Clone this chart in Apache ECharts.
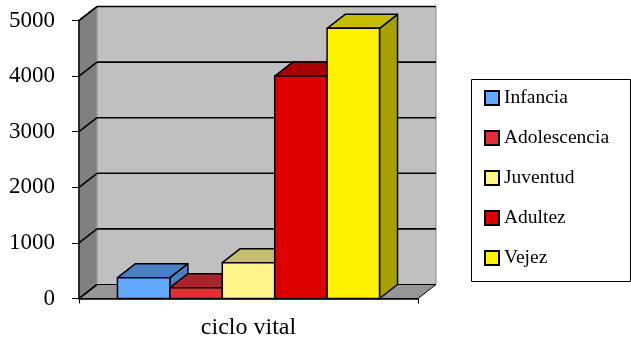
<!DOCTYPE html>
<html>
<head>
<meta charset="utf-8">
<script src="https://cdn.jsdelivr.net/npm/echarts@6/dist/echarts.min.js"></script>
<style>
  html, body { margin: 0; padding: 0; background: #ffffff; }
  #chart { width: 631px; height: 341px; }
</style>
</head>
<body>
<div id="chart"></div>
<script>
// Data
const categories = ['ciclo vital'];
const seriesNames = ['Infancia', 'Adolescencia', 'Juventud', 'Adultez', 'Vejez'];
const seriesValues = [375, 195, 645, 4000, 4860];
const yTicks = [0, 1000, 2000, 3000, 4000, 5000];

// Face colours for each bar: front, top, side
const frontColors = ['#63a9ff', '#df3036', '#fff48a', '#de0000', '#fff200'];
const topColors   = ['#4a7fc2', '#a5262b', '#c6bd6e', '#a80000', '#c7bd00'];
const sideColors  = ['#4a7fc2', '#a5262b', '#c6bd6e', '#a80000', '#a89f00'];

// 3D depth offset (screen pixels)
const DX = 18, DY = -14;
const GROUP_FRACTION = 0.773;   // share of the category band covered by the bars
const FONT = '"Liberation Serif", "DejaVu Serif", serif';

const chart = echarts.init(document.getElementById('chart'), null, { renderer: 'canvas' });

// Back wall, side wall, floor and gridlines
function renderWalls(params, api) {
  const c0 = api.coord([0, 0]);
  const band = api.size([1, 0])[0];
  const xL = c0[0] - band / 2;
  const xR = c0[0] + band / 2;
  const yB = c0[1];
  const yT = api.coord([0, yTicks[yTicks.length - 1]])[1];
  const children = [];
  children.push({
    type: 'rect',
    shape: { x: xL + DX, y: yT + DY, width: xR - xL, height: yB - yT },
    style: { fill: '#c0c0c0', stroke: '#8a8a8a', lineWidth: 1 }
  });
  children.push({
    type: 'polygon',
    shape: { points: [[xL, yB], [xL, yT], [xL + DX, yT + DY], [xL + DX, yB + DY]] },
    style: { fill: '#808080', stroke: '#a0a0a0', lineWidth: 1 }
  });
  children.push({
    type: 'polygon',
    shape: { points: [[xL, yB], [xR, yB], [xR + DX, yB + DY], [xL + DX, yB + DY]] },
    style: { fill: '#969696', stroke: '#000', lineWidth: 1 }
  });
  yTicks.forEach(function (v) {
    const y = api.coord([0, v])[1];
    if (v > 0) {
      children.push({
        type: 'line',
        shape: { x1: xL + DX, y1: y + DY, x2: xR + DX, y2: y + DY },
        style: { stroke: '#000', lineWidth: 1.6 }
      });
    }
    children.push({
      type: 'line',
      shape: { x1: xL, y1: y, x2: xL + DX, y2: y + DY },
      style: { stroke: '#000', lineWidth: 1.6 }
    });
  });
  return { type: 'group', children: children };
}

// One 3D bar: front face, top face and right side face
function makeBarRenderer(i) {
  return function (params, api) {
    const c0 = api.coord([api.value(0), 0]);
    const cv = api.coord([api.value(0), api.value(1)]);
    const band = api.size([1, 0])[0];
    const groupW = band * GROUP_FRACTION;
    const bw = groupW / seriesNames.length;
    const x0 = c0[0] - groupW / 2 + i * bw;
    const x1 = x0 + bw;
    const yB = c0[1];
    const yV = cv[1];
    const edge = { stroke: '#000', lineWidth: 1.5, lineJoin: 'round' };
    return {
      type: 'group',
      children: [
        {
          type: 'polygon',
          shape: { points: [[x1, yB], [x1, yV], [x1 + DX, yV + DY], [x1 + DX, yB + DY]] },
          style: Object.assign({ fill: sideColors[i] }, edge)
        },
        {
          type: 'polygon',
          shape: { points: [[x0, yV], [x1, yV], [x1 + DX, yV + DY], [x0 + DX, yV + DY]] },
          style: Object.assign({ fill: topColors[i] }, edge)
        },
        {
          type: 'rect',
          shape: { x: x0, y: yV, width: bw, height: yB - yV },
          style: Object.assign({ fill: frontColors[i] }, edge)
        }
      ]
    };
  };
}

const series = [{
  type: 'custom',
  name: '__walls',
  coordinateSystem: 'cartesian2d',
  z: 1,
  silent: true,
  renderItem: renderWalls,
  data: [[0, 0]]
}];
seriesNames.forEach(function (name, i) {
  series.push({
    type: 'custom',
    name: name,
    coordinateSystem: 'cartesian2d',
    z: 2,
    itemStyle: { color: frontColors[i] },
    renderItem: makeBarRenderer(i),
    data: [[0, seriesValues[i]]]
  });
});

chart.setOption({
  animation: false,
  backgroundColor: '#ffffff',
  grid: { left: 79, right: 213, top: 20.5, bottom: 42.5 },
  xAxis: {
    type: 'category',
    data: categories,
    z: 10,
    axisLine: { show: true, lineStyle: { color: '#000', width: 1.5 } },
    axisTick: { show: true, length: 5, lineStyle: { color: '#000', width: 1 } },
    axisLabel: { fontFamily: FONT, fontSize: 24, color: '#000', margin: 17 },
    splitLine: { show: false }
  },
  yAxis: {
    type: 'value',
    min: 0,
    max: 5000,
    interval: 1000,
    z: 10,
    axisLine: { show: true, lineStyle: { color: '#000', width: 1.5 } },
    axisTick: { show: true, length: 7, lineStyle: { color: '#000', width: 1 } },
    axisLabel: {
      fontFamily: FONT, fontSize: 23, color: '#000', margin: 24,
      formatter: function (v) { return String(v); }
    },
    splitLine: { show: false }
  },
  legend: {
    orient: 'vertical',
    left: 484,
    top: 88,
    padding: 0,
    itemWidth: 14,
    itemHeight: 14,
    itemGap: 20,
    selectedMode: false,
    textStyle: { fontFamily: FONT, fontSize: 19.5, color: '#000', lineHeight: 20 },
    data: seriesNames.map(function (name, i) {
      return {
        name: name,
        icon: 'rect',
        itemStyle: { color: frontColors[i], borderColor: '#000', borderWidth: 2 }
      };
    })
  },
  graphic: [{
    type: 'rect',
    left: 469,
    top: 77,
    shape: { width: 159, height: 202 },
    style: { fill: 'none', stroke: '#000', lineWidth: 1 },
    z: 0
  }],
  series: series
});
</script>
</body>
</html>
